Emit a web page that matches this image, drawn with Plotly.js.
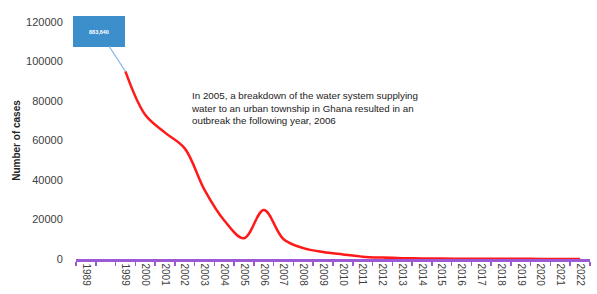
<!DOCTYPE html>
<html>
<head>
<meta charset="utf-8">
<script src="https://cdn.plot.ly/plotly-3.0.1.min.js"></script>
<style>html,body{margin:0;padding:0;background:#fff}#chart{width:597px;height:294px}</style>
</head>
<body>
<div id="chart"></div>
<script>
// Categories (one empty slot between 1989 and 1999, as in the reference)
const years = ['1989',' ','1999','2000','2001','2002','2003','2004','2005','2006','2007','2008','2009','2010','2011','2012','2013','2014','2015','2016','2017','2018','2019','2020','2021','2022'];
// Reported cases (1989 value is off the scale and shown as a callout)
const cases = [null,null,95000,73000,64000,56000,35000,19500,10500,24800,10000,5500,3500,2300,1200,700,400,300,200,150,120,100,80,60,50,40];
const value1989 = 883640;
const calloutYear = '1999';
const calloutValue = 95000;
const note = 'In 2005, a breakdown of the water system supplying<br>water to an urban township in Ghana resulted in an<br>outbreak the following year, 2006';

const trace = {
  x: years, y: cases, type: 'scatter', mode: 'lines',
  line: {color: '#ff1a1a', width: 2.5, shape: 'spline', smoothing: 1},
  connectgaps: false, hoverinfo: 'skip'
};

const layout = {
  width: 597, height: 294,
  margin: {l: 76, r: 7, t: 22, b: 35},
  paper_bgcolor: '#fff', plot_bgcolor: '#fff',
  showlegend: false,
  font: {family: 'Liberation Sans, Arial, sans-serif', color: '#404040'},
  xaxis: {
    type: 'category', range: [-0.5, 25.5],
    tickson: 'boundaries', ticks: 'outside', ticklen: 4, tickwidth: 1.5, tickcolor: '#9b59d6',
    showline: true, linecolor: '#9b59d6', linewidth: 2.5, layer: 'below traces',
    showgrid: false, zeroline: false,
    tickangle: 90, tickfont: {size: 10, color: '#404040'}
  },
  yaxis: {
    range: [0, 120000], dtick: 20000, tickformat: 'd',
    showgrid: false, zeroline: false, showline: false,
    ticks: 'outside', ticklen: 10, tickcolor: 'rgba(0,0,0,0)',
    tickfont: {size: 11, color: '#404040'},
    title: {text: '<b>Number of cases</b>', font: {size: 10, color: '#222'}, standoff: 3}
  },
  annotations: [
    {
      x: years.indexOf(calloutYear), y: calloutValue, xref: 'x', yref: 'y',
      text: '<b>' + value1989.toLocaleString('en-US') + '</b>',
      showarrow: true, arrowhead: 0, arrowwidth: 1.2, arrowcolor: '#8db8e8',
      ax: -26, ay: -40,
      bgcolor: '#3d8fcb', bordercolor: '#3d8fcb',
      width: 48, height: 27,
      font: {size: 5.5, color: '#ffffff'}
    },
    {
      x: 0.22, y: 0.72, xref: 'paper', yref: 'paper',
      xanchor: 'left', yanchor: 'top', align: 'left',
      text: note, showarrow: false,
      font: {size: 9.8, color: '#222'}
    }
  ]
};

Plotly.newPlot('chart', [trace], layout, {displayModeBar: false, staticPlot: true});
</script>
</body>
</html>
